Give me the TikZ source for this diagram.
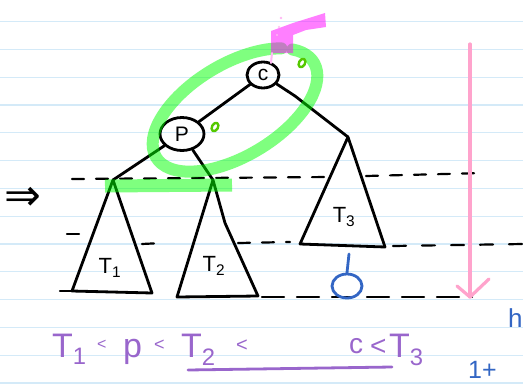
\documentclass[tikz,border=0pt]{standalone}
\usepackage{fontspec}
\setmainfont{Liberation Sans}
\newfontfamily\symfam{DejaVu Sans}
\usetikzlibrary{shapes.geometric}
\definecolor{rulecol}{HTML}{D4EAF8}
\definecolor{mkgreen}{HTML}{55C800}
\definecolor{arrpink}{HTML}{FFA3CC}
\definecolor{penblue}{HTML}{3366C4}
\definecolor{penpurple}{HTML}{9966CC}
\definecolor{hlpink}{RGB}{255,0,255}
\definecolor{hlgrn}{RGB}{0,255,0}
\definecolor{dotpink}{HTML}{FFB8F4}
\begin{document}
\begin{tikzpicture}[x=1pt,y=-1pt,line cap=round,line join=round,
  ink/.style={line width=2.8pt,draw=black},
  dashline/.style={line width=2.2pt,draw=black,dash pattern=on 12pt off 12pt},
  treenode/.style={ellipse,draw,line width=2.8pt,inner sep=0pt,font=\fontsize{21}{21}\selectfont},
  treelbl/.style={font=\fontsize{22}{22}\selectfont,inner sep=0pt},
  purp/.style={text=penpurple,inner sep=0pt,anchor=base west},
  hlgreen/.style={draw=hlgrn,opacity=0.5,line width=12pt},
]
\useasboundingbox (0,0) rectangle (523,384);
\clip (0,0) rectangle (523,384);
\fill[white] (0,0) rectangle (523,384);
% ruled paper
\foreach \k in {0,...,13}
  \draw[rulecol,line width=1.2pt] (0,{21.5+27.8*\k}) -- (523,{21.5+27.8*\k});

% dashed level lines
\draw[dashline] (72,179) -- (330,177);
\draw[dashline] (366,176) -- (483,173);
\draw[dashline] (67,234) -- (83,234);
\draw[dashline] (142,244) -- (162,243);
\draw[dashline] (238,243) -- (290,242);
\draw[dashline,dash pattern=on 13pt off 16pt] (393,246) -- (523,244);
\draw[dashline] (60,291) -- (72,291);
\draw[dashline,dash pattern=on 22pt off 13pt] (262,297) -- (472,297);

% tree
\node[treenode,minimum width=32pt,minimum height=26pt] (c) at (263,75) {c};
\node[treenode,minimum width=44pt,minimum height=33pt] (p) at (182,134) {P};
\coordinate (t1top) at (113,180);
\coordinate (t2top) at (213,180);
\coordinate (t3top) at (348,137);
\draw[ink] (c) -- (p);
\draw[ink] (c) -- (295,96) -- (t3top);
\draw[ink] (p) -- (t1top);
\draw[ink] (p) -- (t2top);
\draw[ink] (t1top) -- (72,291) -- (152,293) -- cycle;
\draw[ink] (t2top) -- (177,297) -- (258,296) -- (225,223) -- cycle;
\draw[ink] (t3top) -- (300,244) -- (385,247) -- cycle;
\node[treelbl] (lt1) at (110,268) {T\textsubscript{1}};
\node[treelbl] (lt2) at (214,266) {T\textsubscript{2}};
\node[treelbl] (lt3) at (344,217) {T\textsubscript{3}};

% implies arrow
\node[inner sep=0pt,font=\symfam\fontsize{44}{44}\selectfont] (impl) at (23,199) {⇒};

% blue hole marker
\node[ellipse,draw=penblue,line width=2.8pt,minimum width=30pt,minimum height=24pt,inner sep=0pt] (hole) at (347,286) {};
\coordinate (holetop) at (349,254);
\draw[penblue,line width=2.8pt] (holetop) -- (hole.north);

% pink height arrow
\coordinate (arrtop) at (470,44);
\coordinate (arrtip) at (470,297);
\draw[arrpink,line width=3.2pt] (arrtop) -- (arrtip);
\draw[arrpink,line width=3.2pt] (457,286) -- (arrtip) -- (489,279);

% purple ordering
\node[purp,font=\fontsize{34}{34}\selectfont] (o1) at (52,357) {T\textsubscript{1}};
\node[purp,font=\fontsize{16}{16}\selectfont] (o2) at (97,349) {<};
\node[purp,font=\fontsize{34}{34}\selectfont] (o3) at (123,357) {p};
\node[purp,font=\fontsize{18}{18}\selectfont] (o4) at (154,350) {<};
\node[purp,font=\fontsize{34}{34}\selectfont] (o5) at (181,357) {T\textsubscript{2}};
\node[purp,font=\fontsize{20}{20}\selectfont] (o6) at (236,351) {<};
\node[purp,font=\fontsize{28}{28}\selectfont] (o7) at (349,353) {c};
\node[purp,font=\fontsize{28}{28}\selectfont] (o8) at (370,355) {<};
\node[purp,font=\fontsize{34}{34}\selectfont] (o9) at (389,357) {T\textsubscript{3}};
\draw[penpurple,line width=2.8pt] (188,370) .. controls (290,368) .. (392,367);

% blue side notes
\node[text=penblue,inner sep=0pt,anchor=base west,font=\fontsize{25}{25}\selectfont] (n1) at (468,378) {1+};
\node[text=penblue,inner sep=0pt,anchor=base west,font=\fontsize{26}{26}\selectfont] (n2) at (508,327) {h};

% green highlights
\begin{scope}[shift={(235,110)},rotate=31]
  \draw[hlgreen] ({92pt*cos(39)},{46pt*sin(39)}) arc[start angle=39,end angle=389,x radius=92pt,y radius=46pt];
\end{scope}
\draw[hlgreen,line width=13pt,line cap=butt] (105,186) -- (232,185);
\draw[mkgreen,line width=2.4pt,rotate around={-30:(302,63)}] (302,63) ellipse [x radius=3pt,y radius=4.5pt];
\draw[mkgreen,line width=2.4pt,rotate around={-30:(215,127)}] (215,127) ellipse [x radius=3pt,y radius=4.5pt];

% pink highlight
\fill[hlpink,opacity=0.5] (271,31) -- (293,23) -- (325,13) -- (326,27) -- (306,30) -- (293,35) -- (293,53) -- (271,53) -- cycle;
\draw[dotpink,line width=2pt] (272,53) -- (271,63);
\fill[dotpink] (281,18) circle (1.3pt);
\fill[dotpink] (279,27) circle (1.1pt);
\fill[dotpink] (277,35) circle (1.1pt);
\end{tikzpicture}
\end{document}
